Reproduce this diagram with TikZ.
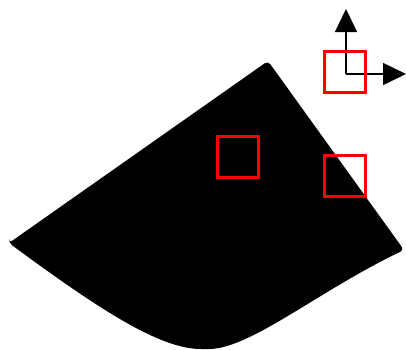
\documentclass[tikz,border=0pt]{standalone}
\usetikzlibrary{arrows.meta}

\begin{document}
\begin{tikzpicture}[x=1pt, y=-1pt, line width=1.5pt,
    probe/.style={draw=red, line width=3.2pt},
    axis/.style={-{Triangle[length=23pt, width=22pt]}}]

    \useasboundingbox (0,0) rectangle (406,349);

    \coordinate (L) at (9,243);
    \coordinate (T) at (268,61);
    \coordinate (R) at (404,250);
    \coordinate (B) at (205,349);
    \def\sz{44}

    % the sector
    \fill[black, rounded corners=4pt] (L) -- (T) -- (R)
      .. controls (320,290) and (250,349) .. (B)
      .. controls (160,349) and (100,310) .. (L) -- cycle;

    % frame
    \coordinate (O) at (346,74);
    \coordinate (X) at (406,74);
    \coordinate (Y) at (346,9);
    \draw[axis] (O) -- (Y);
    \draw[axis] (O) -- (X);

    % windows
    \foreach \x/\y in {323/50, 216/135, 323/154} {
      \draw[probe] (\x+1.6,\y+1.6) rectangle ++(\sz-3.2,\sz-3.2);
    }

  \end{tikzpicture}
\end{document}
